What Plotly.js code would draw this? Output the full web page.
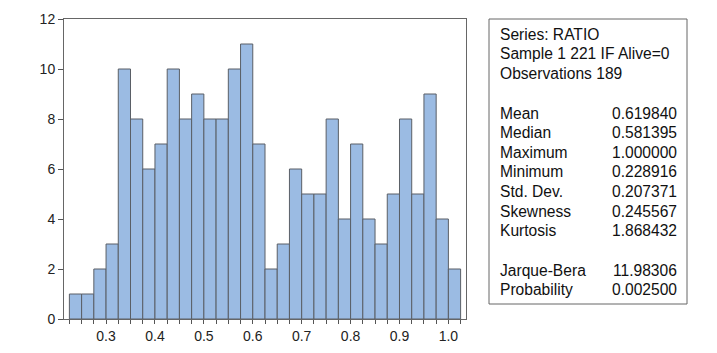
<!DOCTYPE html>
<html><head><meta charset="utf-8">
<script src="https://cdn.plot.ly/plotly-3.0.1.min.js"></script>
<style>html,body{margin:0;padding:0;background:#fff}#c{width:717px;height:353px}</style>
</head><body><div id="c"></div>
<script>
// Bin left edges (width 0.025) and counts
const binStart = [0.225,0.25,0.275,0.3,0.325,0.35,0.375,0.4,0.425,0.45,0.475,0.5,0.525,0.55,0.575,0.6,
                  0.625,0.65,0.675,0.7,0.725,0.75,0.775,0.8,0.825,0.85,0.875,0.9,0.925,0.95,0.975,1.0];
const counts   = [1,1,2,3,10,8,6,7,10,8,9,8,8,10,11,7,2,3,6,5,5,8,4,7,4,3,5,8,5,9,4,2];
const binWidth = 0.025;
const xTicks = [0.3,0.4,0.5,0.6,0.7,0.8,0.9,1.0];
const yTicks = [0,2,4,6,8,10,12];

const headerLines = ["Series: RATIO","Sample 1 221 IF Alive=0","Observations 189"];
const statLabels = ["Mean","Median","Maximum","Minimum","Std. Dev.","Skewness","Kurtosis"];
const statValues = ["0.619840","0.581395","1.000000","0.228916","0.207371","0.245567","1.868432"];
const testLabels = ["Jarque-Bera","Probability"];
const testValues = ["11.98306","0.002500"];

const L = 64, R = 466, T = 19, B = 319, W = 717, H = 353;
const px = x => (x - L) / (R - L);
const py = y => (B - y) / (B - T);
const font = {family: "Liberation Sans, Arial, sans-serif", size: 15.6, color: "#111"};

const ann = [];
const lineH = 19.6;
headerLines.forEach((t,i)=>ann.push({text:t,xref:"paper",yref:"paper",x:px(498),y:py(34+i*lineH),xanchor:"left",yanchor:"middle",showarrow:false,font}));
statLabels.forEach((t,i)=>{
  ann.push({text:t,xref:"paper",yref:"paper",x:px(498),y:py(113+i*lineH),xanchor:"left",yanchor:"middle",showarrow:false,font});
  ann.push({text:statValues[i],xref:"paper",yref:"paper",x:px(679),y:py(113+i*lineH),xanchor:"right",yanchor:"middle",showarrow:false,font});
});
testLabels.forEach((t,i)=>{
  ann.push({text:t,xref:"paper",yref:"paper",x:px(498),y:py(270+i*lineH),xanchor:"left",yanchor:"middle",showarrow:false,font});
  ann.push({text:testValues[i],xref:"paper",yref:"paper",x:px(679),y:py(270+i*lineH),xanchor:"right",yanchor:"middle",showarrow:false,font});
});

const trace = {
  type: "bar", x: binStart, y: counts, offset: 0, width: binWidth,
  marker: {color: "#9bbbe3", line: {color: "#5a5f66", width: 1}},
  hoverinfo: "skip"
};

const layout = {
  width: W, height: H,
  margin: {l: L, r: W - R, t: T, b: H - B, pad: 0},
  paper_bgcolor: "#fff", plot_bgcolor: "#fff",
  showlegend: false, bargap: 0,
  font: {family: "Liberation Sans, Arial, sans-serif", size: 14, color: "#222"},
  xaxis: {
    range: [0.214, 1.036], tickvals: xTicks, tickformat: ".1f",
    ticks: "outside", ticklen: 4, tickcolor: "#555", showgrid: false, zeroline: false,
    showline: true, linecolor: "#666", linewidth: 1, mirror: true,
    minor: {dtick: 0.025, tick0: 0.225, ticks: "outside", ticklen: 4, tickcolor: "#555", showgrid: false},
    tickfont: {size: 14, color: "#222"}
  },
  yaxis: {
    range: [0, 12], tickvals: yTicks, ticks: "outside", ticklen: 5, tickcolor: "#555",
    showgrid: false, zeroline: false, showline: true, linecolor: "#666", linewidth: 1, mirror: true,
    tickfont: {size: 14, color: "#222"}
  },
  shapes: [{type: "rect", xref: "paper", yref: "paper", x0: px(489), x1: px(687), y0: py(304), y1: py(19),
            line: {color: "#666", width: 1}, fillcolor: "rgba(0,0,0,0)"}],
  annotations: ann
};
Plotly.newPlot("c", [trace], layout, {staticPlot: true, displayModeBar: false});
</script></body></html>
